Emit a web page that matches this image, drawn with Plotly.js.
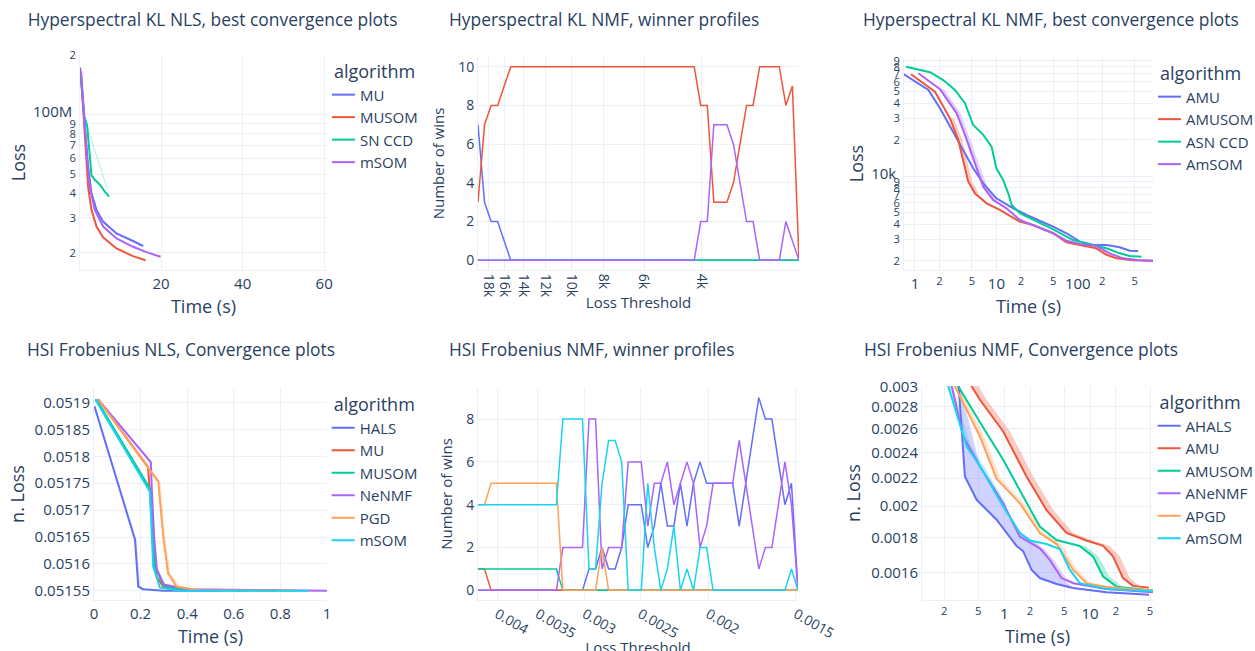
<!DOCTYPE html>
<html>
<head>
<meta charset="utf-8">
<script src="https://cdn.plot.ly/plotly-3.0.1.min.js"></script>
<style>
html,body{margin:0;padding:0;background:#fff;overflow:hidden;width:1255px;height:651px;}
.p{position:absolute;}
</style>
</head>
<body>
<div id="tl" class="p"></div>
<div id="tm" class="p"></div>
<div id="tr" class="p"></div>
<div id="bl" class="p"></div>
<div id="bm" class="p"></div>
<div id="br" class="p"></div>
<script>
// ---------------- Panel 1: Hyperspectral KL NLS (time, loss) ----------------
const klnls_MU_t = [0.12,0.86,1.52,2.09,2.92,4.15,5.77,9.05,13.1,15.6];
const klnls_MU_v = [173e6,109.6e6,74.3e6,54.5e6,39.9e6,32.9e6,28.7e6,25.0e6,22.9e6,21.6e6];
const klnls_MUSOM_t = [0.3,1.03,1.52,2.09,2.92,4.15,5.77,9.05,13.1,16.2];
const klnls_MUSOM_v = [165e6,90.4e6,61.2e6,43.1e6,32.9e6,27.1e6,23.9e6,21.0e6,19.2e6,18.3e6];
const klnls_SNCCD_t = [0.3,1.2,1.85,2.5,2.92,3.73,4.54,5.37,6.18,7.24];
const klnls_SNCCD_v = [160e6,97e6,88e6,62e6,49.4e6,46.6e6,45.2e6,43.1e6,40.7e6,38.4e6];
const klnls_SNCCD_hi_t = [1.85,6.75];
const klnls_SNCCD_hi_v = [86.8e6,42.3e6];
const klnls_mSOM_t = [0.36,1.28,1.85,2.5,3.73,5.77,9.05,13.1,16.4,19.85];
const klnls_mSOM_v = [165e6,86.9e6,58.9e6,43.1e6,32.9e6,27.1e6,23.6e6,21.4e6,20.1e6,19.05e6];

// ---------------- Panel 2: Hyperspectral KL NMF winner profiles ----------------
const klnmf_thr = [19350,18477,17642,16846,16084,15358,14666,14003,13370,12767,
  12190,11640,11114,10612,10132,9676,9239,8822,8424,8043,
  7680,7334,7003,6687,6385,6095,5820,5558,5307,5067,
  4839,4620,4411,4212,4022,3840,3667,3502,3344,3193,
  3048,2911,2780,2654,2534,2420,2311,2206,2107,2011];
const klnmf_MU = [7,3,2,2,1,0,0,0,0,0, 0,0,0,0,0,0,0,0,0,0, 0,0,0,0,0,0,0,0,0,0, 0,0,0,0,0,0,0,0,0,0, 0,0,0,0,0,0,0,0,0,0];
const klnmf_MUSOM = [3,7,8,8,9,10,10,10,10,10, 10,10,10,10,10,10,10,10,10,10, 10,10,10,10,10,10,10,10,10,10, 10,10,10,10,8,8,3,3,3,4, 6,8,8,10,10,10,10,8,9,0];
const klnmf_SNCCD = [0,0,0,0,0,0,0,0,0,0, 0,0,0,0,0,0,0,0,0,0, 0,0,0,0,0,0,0,0,0,0, 0,0,0,0,0,0,0,0,0,0, 0,0,0,0,0,0,0,0,0,0];
const klnmf_mSOM = [0,0,0,0,0,0,0,0,0,0, 0,0,0,0,0,0,0,0,0,0, 0,0,0,0,0,0,0,0,0,0, 0,0,0,0,2,2,7,7,7,6, 4,2,2,0,0,0,0,2,1,0];
const klnmf_ticks = [18000,16000,14000,12000,10000,8000,6000,4000];
const klnmf_tickText = ['18k','16k','14k','12k','10k','8k','6k','4k'];

// ---------------- Panel 3: Hyperspectral KL NMF convergence ----------------
const klc_AMU_t = [0.733,1.46,2.03,3.10,5.19,6.89,10.0,16.1,23.5,49.8,72.7,106,154,225,328,435,550];
const klc_AMU_v = [69400,51500,36300,21900,11600,8720,6550,5420,4770,3820,3370,2870,2700,2700,2580,2420,2400];
const klc_AMUSOM_t = [0.893,1.76,2.69,3.40,4.51,5.45,7.58,11.0,19.4,28.3,49.8,72.7,106,169,225,298,477,839];
const klc_AMUSOM_v = [69400,49800,30000,19900,8990,7210,5960,5250,4200,3940,3370,2840,2700,2530,2230,2090,2020,2000];
const klc_ASNCCD_t = [0.776,1.53,2.22,3.10,4.11,5.19,6.89,8.73,10.0,12.1,14.0,15.4,19.4,34.2,49.8,87.5,128,225,328,435,605];
const klc_ASNCCD_v = [80200,72100,62200,51500,40000,26400,21900,17500,11600,9290,7210,5770,4930,4120,3630,2960,2780,2530,2300,2190,2160];
const klc_AmSOM_t = [1.10,2.03,3.25,4.11,5.19,6.89,9.13,13.3,19.4,34.2,49.8,72.7,106,169,247,360,576,839];
const klc_AmSOM_v = [70700,52200,33000,21900,14000,8170,6350,5420,4340,3700,3370,2920,2750,2640,2300,2090,2020,2000];
const klc_AmSOM_bandLo_t = [2.03,3.25,4.11,5.19,6.89,9.13];
const klc_AmSOM_bandHi_t = [2.27,3.64,4.6,5.81,7.72,10.2];
const klc_AmSOM_band_v = [52200,33000,21900,14000,8170,6350];
const klc_AMUSOM_band1Lo_t = [2.69,3.40,4.51,5.45];
const klc_AMUSOM_band1Hi_t = [3.01,3.81,5.05,6.1];
const klc_AMUSOM_band1_v = [30000,19900,8990,7210];
const klc_AMUSOM_band2Lo_t = [106,169,225,298,477];
const klc_AMUSOM_band2Hi_t = [120,200,270,360,560];
const klc_AMUSOM_band2_v = [2700,2530,2230,2090,2020];

// ---------------- Panel 4: HSI Frobenius NLS convergence ----------------
const fnls_HALS_t = [0.002,0.176,0.19,0.21,0.3,0.55];
const fnls_HALS_v = [0.051893,0.051645,0.051558,0.051553,0.05155,0.05155];
const fnls_HALS_hi_t = [0.002,0.182,0.197,0.218,0.3];
const fnls_MU_t = [0.018,0.225,0.232,0.245,0.258,0.27,0.297,0.4,0.78];
const fnls_MU_v = [0.051906,0.051784,0.05178,0.0517,0.0516,0.051575,0.051558,0.051552,0.05155];
const fnls_MUSOM_t = [0.01,0.24,0.25,0.262,0.298,0.37,0.66];
const fnls_MUSOM_v = [0.051906,0.05174,0.0517,0.051595,0.05156,0.051552,0.05155];
const fnls_NeNMF_t = [0.018,0.244,0.248,0.258,0.27,0.3,0.4,1.0];
const fnls_NeNMF_v = [0.051906,0.051789,0.05174,0.05165,0.05159,0.051562,0.051553,0.05155];
const fnls_PGD_t = [0.018,0.276,0.297,0.318,0.354,0.45,0.88];
const fnls_PGD_v = [0.051906,0.051753,0.051651,0.051583,0.051558,0.051551,0.05155];
const fnls_PGD_hi_t = [0.018,0.285,0.305,0.328,0.37,0.45];
const fnls_mSOM_t = [0.005,0.24,0.254,0.283,0.37,0.92];
const fnls_mSOM_v = [0.051906,0.051734,0.051595,0.051556,0.05155,0.05155];

// ---------------- Panel 5: HSI Frobenius NMF winner profiles ----------------
const fnmf_thr = [0.004260,0.0041696,0.0040812,0.0039946,0.0039099,0.0038270,0.0037458,0.0036664,0.0035886,0.0035125,
  0.0034380,0.0033651,0.0032937,0.0032238,0.0031554,0.0030885,0.0030230,0.0029589,0.0028961,0.0028347,
  0.0027746,0.0027157,0.0026581,0.0026017,0.0025465,0.0024925,0.0024397,0.0023879,0.0023373,0.0022877,
  0.0022392,0.0021917,0.0021452,0.0020997,0.0020551,0.0020115,0.0019689,0.0019271,0.0018862,0.0018462,
  0.0018070,0.0017687,0.0017312,0.0016945,0.0016585,0.0016233,0.0015889,0.0015552,0.0015222,0.0014899];
const fnmf_HALS = [0,0,0,0,0,0,0,0,0,0, 0,0,0,0,0,0,0,1,1,2, 1,1,2,4,4,4,2,3,5,3, 3,5,3,5,6,5,5,5,5,5, 3,5,7,9,8,8,6,4,5,0];
const fnmf_MU = [1,1,0,0,0,0,0,0,0,0, 0,0,0,0,0,0,0,0,0,0, 0,0,0,0,0,0,0,0,0,0, 0,0,0,0,0,0,0,0,0,0, 0,0,0,0,0,0,0,0,0,0];
const fnmf_MUSOM = [1,1,1,1,1,1,1,1,1,1, 1,1,1,0,0,0,0,0,0,0, 0,0,0,0,0,0,0,0,0,0, 0,0,0,0,0,0,0,0,0,0, 0,0,0,0,0,0,0,0,0,0];
const fnmf_NeNMF = [0,0,0,0,0,0,0,0,0,0, 0,0,0,2,2,2,2,8,8,1, 2,2,2,6,6,6,3,5,5,6, 4,5,6,5,2,3,5,5,5,5, 7,5,3,1,2,2,4,6,4,0];
const fnmf_PGD = [4,4,5,5,5,5,5,5,5,5, 5,5,5,0,0,0,0,0,0,2, 0,0,0,0,0,0,0,0,0,0, 0,0,0,0,0,0,0,0,0,0, 0,0,0,0,0,0,0,0,0,0];
const fnmf_mSOM = [4,4,4,4,4,4,4,4,4,4, 4,4,4,8,8,8,8,1,1,5, 7,7,6,0,0,0,5,2,0,1, 3,0,1,0,2,2,0,0,0,0, 0,0,0,0,0,0,0,0,1,0];
const fnmf_ticks = [0.004,0.0035,0.003,0.0025,0.002,0.0015];
const fnmf_tickText = ['0.004','0.0035','0.003','0.0025','0.002','0.0015'];

// ---------------- Panel 6: HSI Frobenius NMF convergence ----------------
const fc_AHALS_t = [0.285,0.349,0.478,0.816,1.39,1.66,2.08,2.60,4.07,6.34,15.5,48.5];
const fc_AHALS_v = [0.0032,0.002211,0.002044,0.001911,0.001749,0.001718,0.001614,0.001569,0.001538,0.001517,0.001495,0.001483];
const fc_AHALS_bandHi_t = [0.285,0.305,0.522,0.974,1.52,2.6,3.71,4.65,6.34];
const fc_AHALS_bandHi_v = [0.0032,0.003,0.002289,0.00202,0.00184,0.00175,0.00165,0.00157,0.001517];
const fc_AMU_t = [0.378,0.418,0.522,0.974,1.82,3.11,5.32,9.08,14.2,18.5,24.2,31.6,48.5];
const fc_AMU_v = [0.0032,0.003,0.002866,0.002575,0.002211,0.001974,0.001827,0.001781,0.001749,0.001688,0.001569,0.001528,0.001519];
const fc_AMU_bandHi_t = [0.454,0.50,0.626,1.17,2.18,3.73,6.38,10.9,17.0,22.2,29.0,37.9,48.5];
const fc_AMUSOM_t = [0.246,0.292,0.522,0.974,1.66,2.60,4.07,7.59,10.8,14.2,20.3,54];
const fc_AMUSOM_v = [0.0032,0.003,0.002656,0.002341,0.002068,0.001867,0.001784,0.001749,0.001688,0.001577,0.001524,0.001504];
const fc_AMUSOM_bandLo_t = [7.59,10.8,14.2,20.3];
const fc_AMUSOM_bandHi_t = [8.8,12.6,16.8,24];
const fc_AMUSOM_band_v = [0.001749,0.001688,0.001577,0.001524];
const fc_ANeNMF_t = [0.221,0.245,0.334,0.522,0.974,1.52,2.60,3.40,4.65,6.34,15.5,54];
const fc_ANeNMF_v = [0.0032,0.003,0.002532,0.002289,0.002020,0.001805,0.001735,0.001668,0.001569,0.001542,0.001512,0.001495];
const fc_ANeNMF_bandLo_t = [2.60,3.40,4.65,6.34];
const fc_ANeNMF_bandHi_t = [2.9,3.8,5.2,7.1];
const fc_ANeNMF_band_v = [0.001735,0.001668,0.001569,0.001542];
const fc_APGD_t = [0.24,0.267,0.522,0.816,1.07,1.52,2.60,4.07,6.34,9.08,15.5,54];
const fc_APGD_v = [0.0032,0.003,0.002532,0.002193,0.002117,0.002020,0.001827,0.001760,0.001614,0.001542,0.001522,0.001504];
const fc_APGD_bandLo_t = [0.267,0.522,0.816,1.07,1.52,2.60,4.07,6.34,9.08];
const fc_APGD_bandHi_t = [0.30,0.585,0.914,1.2,1.7,2.91,4.56,7.1,10.2];
const fc_APGD_band_v = [0.003,0.002532,0.002193,0.002117,0.002020,0.001827,0.001760,0.001614,0.001542];
const fc_AmSOM_t = [0.204,0.223,0.365,0.522,0.974,1.52,1.99,3.11,4.44,5.81,7.59,15.5,54];
const fc_AmSOM_v = [0.0032,0.003,0.002448,0.002289,0.001998,0.001827,0.001781,0.001760,0.001730,0.001614,0.001542,0.001512,0.0015];
const fc_AmSOM_bandLo_t = [0.204,0.223,0.365,0.522,0.974];
const fc_AmSOM_bandHi_t = [0.23,0.25,0.41,0.585,1.09];
const fc_AmSOM_band_v = [0.0032,0.003,0.002448,0.002289,0.001998];
const fc_yTicks = [0.0016,0.0018,0.002,0.0022,0.0024,0.0026,0.0028,0.003];
const fc_yTickText = ['0.0016','0.0018','0.002','0.0022','0.0024','0.0026','0.0028','0.003'];

// ---------------- styling helpers ----------------
const COL = {blue:'#636efa', red:'#EF553B', green:'#00cc96', purple:'#ab63fa', orange:'#FFA15A', cyan:'#19d3f3'};
const FILL = {blue:'rgba(99,110,250,0.3)', red:'rgba(239,85,59,0.3)', green:'rgba(0,204,150,0.3)',
  purple:'rgba(171,99,250,0.3)', orange:'rgba(255,161,90,0.3)', cyan:'rgba(25,211,243,0.3)'};
const TXT = '#2a3f5f';
const FAMILY = '"Open Sans", verdana, arial, sans-serif';

function line(x, y, name, color, show, width) {
  return {type:'scatter', mode:'lines', x:x, y:y, name:name, line:{color:color, width:width||2},
          showlegend:show, hoverinfo:'skip'};
}
function band(tLo, vLo, tHi, vHi, fill) {
  return {type:'scatter', mode:'lines', x:tLo.concat(tHi.slice().reverse()), y:vLo.concat(vHi.slice().reverse()),
          fill:'toself', fillcolor:fill, line:{width:0}, showlegend:false, hoverinfo:'skip'};
}
function axis(extra, tsize) {
  return Object.assign({gridcolor:'#EBF0F8', zerolinecolor:'#EBF0F8', zerolinewidth:2, linecolor:'#EBF0F8',
    ticks:'', automargin:false, ticklabeloverflow:'allow', tickfont:{size:tsize, color:TXT, family:FAMILY}}, extra);
}
function place(id, p) {
  const el = document.getElementById(id);
  el.style.left = p.left + 'px'; el.style.top = p.top + 'px';
  el.style.width = p.w + 'px'; el.style.height = p.h + 'px';
}
function layout(p, title, xa, ya, legend) {
  return {
    width:p.w, height:p.h,
    margin:{l:p.m[0], r:p.m[1], t:p.m[2], b:p.m[3], autoexpand:false, pad:0},
    paper_bgcolor:'rgba(0,0,0,0)', plot_bgcolor:'#ffffff',
    font:{family:FAMILY, size:15, color:TXT},
    title:{text:title, x:p.tx/p.w, xref:'container', xanchor:'left', y:1 - p.ty/p.h, yref:'container',
           yanchor:'middle', font:{size:17.4, color:TXT}},
    showlegend:legend,
    legend:{title:{text:'algorithm', font:{size:18, color:TXT}}, font:{size:15, color:TXT},
            x:1.02, y:1, xanchor:'left', yanchor:'top', bgcolor:'rgba(0,0,0,0)', tracegroupgap:0,
            indentation:-12},
    xaxis:xa, yaxis:ya
  };
}
const cfg = {staticPlot:true, displayModeBar:false, responsive:false};

// ---------------- Panel geometry ----------------
const P = {
  tl:{left:0,   top:0,   w:419, h:331, m:[80,92,55,61], tx:27.7, ty:20},
  tm:{left:418, top:0,   w:419, h:313, m:[60,38,57,43], tx:31, ty:20},
  tr:{left:836, top:0,   w:419, h:331, m:[68,102,57,61], tx:27, ty:20},
  bl:{left:0,   top:331, w:419, h:331, m:[94,92,57,62], tx:27, ty:19},
  bm:{left:418, top:331, w:419, h:326, m:[60,39,57,57], tx:31, ty:19},
  br:{left:836, top:331, w:419, h:331, m:[86,102,55,62], tx:28, ty:19}
};
Object.keys(P).forEach(k => place(k, P[k]));

const convTitle = (t) => ({text:t, font:{size:18, color:TXT}, standoff:8});
const convYTitle = (t, s) => ({text:t, font:{size:18, color:TXT}, standoff:s});
const midTitle = (t, s) => ({text:t, font:{size:15, color:TXT}, standoff:s});

// Panel 1
Plotly.newPlot('tl', [
  line(klnls_SNCCD_hi_t, klnls_SNCCD_hi_v, 'SN CCD band', 'rgba(0,204,150,0.3)', false, 1),
  line(klnls_MU_t, klnls_MU_v, 'MU', COL.blue, true),
  line(klnls_MUSOM_t, klnls_MUSOM_v, 'MUSOM', COL.red, true),
  line(klnls_SNCCD_t, klnls_SNCCD_v, 'SN CCD', COL.green, true),
  line(klnls_mSOM_t, klnls_mSOM_v, 'mSOM', COL.purple, true)
], layout(P.tl, 'Hyperspectral KL NLS, best convergence plots',
  axis({type:'linear', range:[0.1,60.7], dtick:20, tick0:0, title:convTitle('Time (s)')}, 15),
  axis({type:'log', range:[7.2128,8.302], dtick:'D1', title:convYTitle('Loss', 2)}, 15), true), cfg);

// Panel 2
Plotly.newPlot('tm', [
  line(klnmf_thr, klnmf_MU, 'MU', COL.blue, false, 1.5),
  line(klnmf_thr, klnmf_MUSOM, 'MUSOM', COL.red, false, 1.5),
  line(klnmf_thr, klnmf_SNCCD, 'SN CCD', COL.green, false, 1.5),
  line(klnmf_thr, klnmf_mSOM, 'mSOM', COL.purple, false, 1.5)
], layout(P.tm, 'Hyperspectral KL NMF, winner profiles',
  axis({type:'log', range:[Math.log10(19350), Math.log10(2011)], tickmode:'array', tickvals:klnmf_ticks,
        ticktext:klnmf_tickText, tickangle:90, title:midTitle('Loss Threshold', 0)}, 14),
  axis({type:'linear', range:[-0.5,10.5], dtick:2, tick0:0, title:midTitle('Number of wins', 9)}, 14), false), cfg);

// Panel 3
Plotly.newPlot('tr', [
  band(klc_AmSOM_bandLo_t, klc_AmSOM_band_v, klc_AmSOM_bandHi_t, klc_AmSOM_band_v, FILL.purple),
  band(klc_AMUSOM_band1Lo_t, klc_AMUSOM_band1_v, klc_AMUSOM_band1Hi_t, klc_AMUSOM_band1_v, FILL.red),
  band(klc_AMUSOM_band2Lo_t, klc_AMUSOM_band2_v, klc_AMUSOM_band2Hi_t, klc_AMUSOM_band2_v, FILL.red),
  line(klc_AMU_t, klc_AMU_v, 'AMU', COL.blue, true),
  line(klc_AMUSOM_t, klc_AMUSOM_v, 'AMUSOM', COL.red, true),
  line(klc_ASNCCD_t, klc_ASNCCD_v, 'ASN CCD', COL.green, true),
  line(klc_AmSOM_t, klc_AmSOM_v, 'AmSOM', COL.purple, true)
], layout(P.tr, 'Hyperspectral KL NMF, best convergence plots',
  axis({type:'log', range:[-0.135,2.924], dtick:'D2', title:convTitle('Time (s)')}, 15),
  axis({type:'log', range:[3.224,4.984], dtick:'D1', title:convYTitle('Loss', 2)}, 15), true), cfg);

// Panel 4
Plotly.newPlot('bl', [
  band(fnls_HALS_t.slice(0,5), fnls_HALS_v.slice(0,5), fnls_HALS_hi_t, fnls_HALS_v.slice(0,5), FILL.blue),
  band(fnls_PGD_t.slice(0,6), fnls_PGD_v.slice(0,6), fnls_PGD_hi_t, fnls_PGD_v.slice(0,6), FILL.orange),
  line(fnls_HALS_t, fnls_HALS_v, 'HALS', COL.blue, true),
  line(fnls_MU_t, fnls_MU_v, 'MU', COL.red, true),
  line(fnls_MUSOM_t, fnls_MUSOM_v, 'MUSOM', COL.green, true),
  line(fnls_NeNMF_t, fnls_NeNMF_v, 'NeNMF', COL.purple, true),
  line(fnls_PGD_t, fnls_PGD_v, 'PGD', COL.orange, true),
  line(fnls_mSOM_t, fnls_mSOM_v, 'mSOM', COL.cyan, true)
], layout(P.bl, 'HSI Frobenius NLS, Convergence plots',
  axis({type:'linear', range:[0,1], dtick:0.2, tick0:0, title:convTitle('Time (s)')}, 15),
  axis({type:'linear', range:[0.051533,0.051927], dtick:0.00005, tick0:0.05155, title:convYTitle('n. Loss', 5)}, 15), true), cfg);

// Panel 5
Plotly.newPlot('bm', [
  line(fnmf_thr, fnmf_HALS, 'HALS', COL.blue, false, 1.5),
  line(fnmf_thr, fnmf_MU, 'MU', COL.red, false, 1.5),
  line(fnmf_thr, fnmf_MUSOM, 'MUSOM', COL.green, false, 1.5),
  line(fnmf_thr, fnmf_NeNMF, 'NeNMF', COL.purple, false, 1.5),
  line(fnmf_thr, fnmf_PGD, 'PGD', COL.orange, false, 1.5),
  line(fnmf_thr, fnmf_mSOM, 'mSOM', COL.cyan, false, 1.5)
], layout(P.bm, 'HSI Frobenius NMF, winner profiles',
  axis({type:'log', range:[Math.log10(0.00426), Math.log10(0.0014899)], tickmode:'array', tickvals:fnmf_ticks,
        ticktext:fnmf_tickText, tickangle:30, title:midTitle('Loss Threshold', 0)}, 14),
  axis({type:'linear', range:[-0.45,9.45], dtick:2, tick0:0, title:midTitle('Number of wins', 9)}, 14), false), cfg);

// Panel 6
Plotly.newPlot('br', [
  band(fc_AHALS_t.slice(0,10), fc_AHALS_v.slice(0,10), fc_AHALS_bandHi_t, fc_AHALS_bandHi_v, FILL.blue),
  band(fc_AMU_t, fc_AMU_v, fc_AMU_bandHi_t, fc_AMU_v, FILL.red),
  band(fc_AMUSOM_bandLo_t, fc_AMUSOM_band_v, fc_AMUSOM_bandHi_t, fc_AMUSOM_band_v, FILL.green),
  band(fc_ANeNMF_bandLo_t, fc_ANeNMF_band_v, fc_ANeNMF_bandHi_t, fc_ANeNMF_band_v, FILL.purple),
  band(fc_APGD_bandLo_t, fc_APGD_band_v, fc_APGD_bandHi_t, fc_APGD_band_v, FILL.orange),
  band(fc_AmSOM_bandLo_t, fc_AmSOM_band_v, fc_AmSOM_bandHi_t, fc_AmSOM_band_v, FILL.cyan),
  line(fc_AHALS_t, fc_AHALS_v, 'AHALS', COL.blue, true),
  line(fc_AMU_t, fc_AMU_v, 'AMU', COL.red, true),
  line(fc_AMUSOM_t, fc_AMUSOM_v, 'AMUSOM', COL.green, true),
  line(fc_ANeNMF_t, fc_ANeNMF_v, 'ANeNMF', COL.purple, true),
  line(fc_APGD_t, fc_APGD_v, 'APGD', COL.orange, true),
  line(fc_AmSOM_t, fc_AmSOM_v, 'AmSOM', COL.cyan, true)
], layout(P.br, 'HSI Frobenius NMF, Convergence plots',
  axis({type:'log', range:[-0.957,1.733], dtick:'D2', title:convTitle('Time (s)')}, 15),
  axis({type:'log', range:[-2.8366,-2.5225], tickmode:'array', tickvals:fc_yTicks, ticktext:fc_yTickText,
        title:convYTitle('n. Loss', 5)}, 15), true), cfg);
</script>
</body>
</html>
